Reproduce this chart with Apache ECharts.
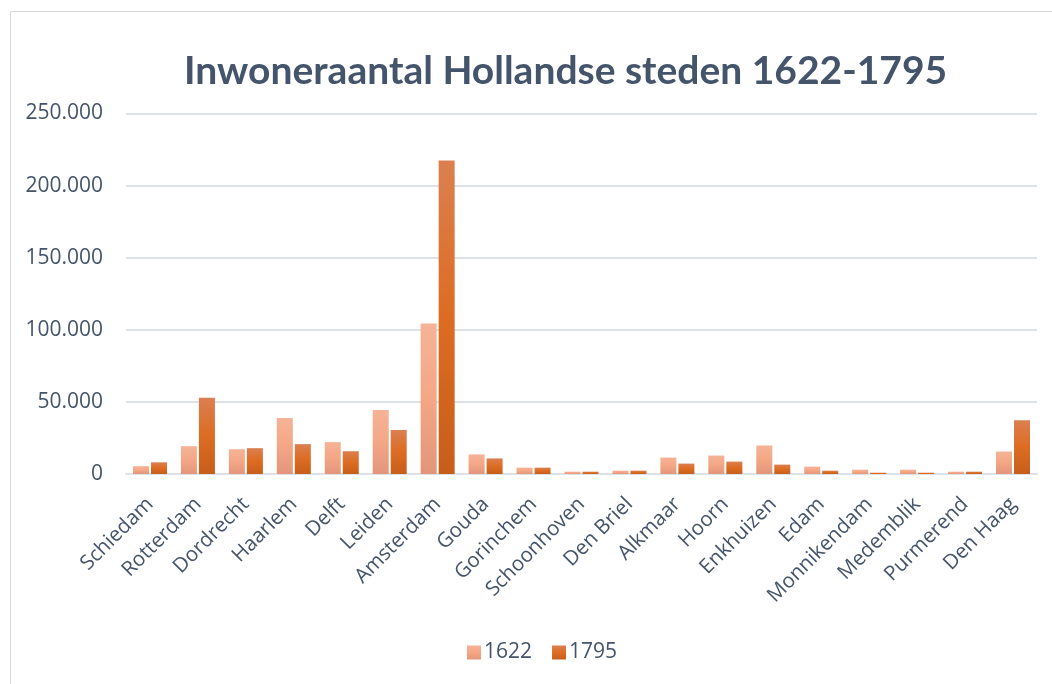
<!DOCTYPE html>
<html>
<head>
<meta charset="utf-8">
<script src="https://cdn.jsdelivr.net/npm/echarts@6/dist/echarts.min.js"></script>
<style>
html,body{margin:0;padding:0;background:#fff;}
#chart{width:1052px;height:684px;}
</style>
</head>
<body>
<div id="chart"></div>
<script>
const titleText = 'Inwoneraantal Hollandse steden 1622-1795';
const cities = ['Schiedam','Rotterdam','Dordrecht','Haarlem','Delft','Leiden','Amsterdam','Gouda','Gorinchem','Schoonhoven','Den Briel','Alkmaar','Hoorn','Enkhuizen','Edam','Monnikendam','Medemblik','Purmerend','Den Haag'];
const seriesNames = ['1622','1795'];
const values1622 = [5400,19300,17200,38800,22100,44400,104400,13600,4400,1600,2300,11400,12800,19800,5100,3000,3000,1600,15600];
const values1795 = [8100,52800,17900,20700,15800,30500,217400,10800,4400,1600,2300,7200,8600,6500,2300,900,900,1600,37200];
const yMin = 0, yMax = 250000, yStep = 50000;

const textColor = '#44546A';
const font = '"Open Sans", sans-serif';
function grad(c1,c2,c3){
  return new echarts.graphic.LinearGradient(0,0,0,1,[
    {offset:0,color:c1},{offset:0.5,color:c2},{offset:1,color:c3}
  ]);
}
function fmt(v){ return String(v).replace(/\B(?=(\d{3})+(?!\d))/g,'.'); }

const chart = echarts.init(document.getElementById('chart'));
chart.setOption({
  animation:false,
  backgroundColor:'#fff',
  graphic:[{
    type:'rect', left:8, top:9, silent:true,
    shape:{width:1100,height:720},
    style:{fill:'none',stroke:'#D9D9D9',lineWidth:1}
  }],
  title:{
    text:titleText, left:179, top:47,
    textStyle:{color:textColor,fontFamily:'Lato',fontWeight:'bold',fontSize:39}
  },
  legend:{
    data:seriesNames, top:637, left:462,
    itemWidth:14, itemHeight:14, itemGap:20,
    icon:'rect',
    textStyle:{color:textColor,fontFamily:font,fontSize:21,padding:[0,0,0,-2]}
  },
  grid:{left:126,right:15,top:113.5,bottom:210,containLabel:false},
  xAxis:{
    type:'category', data:cities,
    axisLine:{show:true,lineStyle:{color:'#DDE2E8',width:2}},
    axisTick:{show:false},
    axisLabel:{rotate:45,color:textColor,fontFamily:font,fontSize:20.5,margin:27,interval:0}
  },
  yAxis:{
    type:'value', min:yMin, max:yMax, interval:yStep,
    axisLine:{show:false}, axisTick:{show:false},
    splitLine:{lineStyle:{color:'#DDE2E8',width:2}},
    axisLabel:{color:textColor,fontFamily:font,fontSize:21,margin:23,formatter:fmt}
  },
  series:[
    {name:seriesNames[0],type:'bar',data:values1622,barWidth:16,barGap:'12.5%',
     itemStyle:{color:grad('#F5B397','#F4A785','#E3957A')}},
    {name:seriesNames[1],type:'bar',data:values1795,barWidth:16,barGap:'12.5%',
     itemStyle:{color:grad('#DB7F50','#DD6C22','#C65E1A')}}
  ]
});
</script>
</body>
</html>
